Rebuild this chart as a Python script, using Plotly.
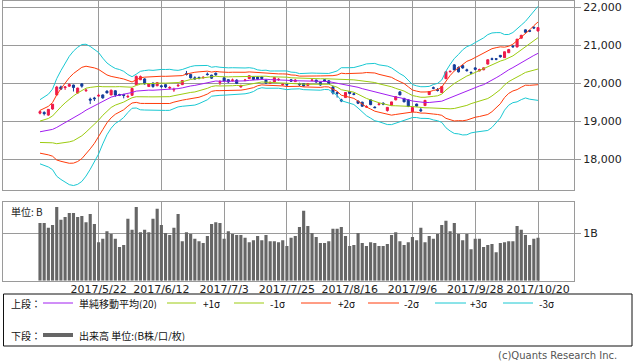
import numpy as np
import plotly.graph_objects as go

# ---------------- data ----------------
dates = ["2017/4/27", "2017/4/28",
         "2017/5/1", "2017/5/2", "2017/5/8", "2017/5/9", "2017/5/10", "2017/5/11", "2017/5/12",
         "2017/5/15", "2017/5/16", "2017/5/17", "2017/5/18", "2017/5/19",
         "2017/5/22", "2017/5/23", "2017/5/24", "2017/5/25", "2017/5/26",
         "2017/5/29", "2017/5/30", "2017/5/31",
         "2017/6/1", "2017/6/2", "2017/6/5", "2017/6/6", "2017/6/7", "2017/6/8", "2017/6/9",
         "2017/6/12", "2017/6/13", "2017/6/14", "2017/6/15", "2017/6/16",
         "2017/6/19", "2017/6/20", "2017/6/21", "2017/6/22", "2017/6/23",
         "2017/6/26", "2017/6/27", "2017/6/28", "2017/6/29", "2017/6/30",
         "2017/7/3", "2017/7/4", "2017/7/5", "2017/7/6", "2017/7/7",
         "2017/7/10", "2017/7/11", "2017/7/12", "2017/7/13", "2017/7/14",
         "2017/7/18", "2017/7/19", "2017/7/20", "2017/7/21",
         "2017/7/24", "2017/7/25", "2017/7/26", "2017/7/27", "2017/7/28", "2017/7/31",
         "2017/8/1", "2017/8/2", "2017/8/3", "2017/8/4",
         "2017/8/7", "2017/8/8", "2017/8/9", "2017/8/10",
         "2017/8/14", "2017/8/15", "2017/8/16", "2017/8/17", "2017/8/18",
         "2017/8/21", "2017/8/22", "2017/8/23", "2017/8/24", "2017/8/25",
         "2017/8/28", "2017/8/29", "2017/8/30", "2017/8/31", "2017/9/1",
         "2017/9/4", "2017/9/5", "2017/9/6", "2017/9/7", "2017/9/8",
         "2017/9/11", "2017/9/12", "2017/9/13", "2017/9/14", "2017/9/15",
         "2017/9/19", "2017/9/20", "2017/9/21", "2017/9/22",
         "2017/9/25", "2017/9/26", "2017/9/27", "2017/9/28", "2017/9/29",
         "2017/10/2", "2017/10/3", "2017/10/4", "2017/10/5", "2017/10/6",
         "2017/10/10", "2017/10/11", "2017/10/12", "2017/10/13",
         "2017/10/16", "2017/10/17", "2017/10/18", "2017/10/19", "2017/10/20"]

open_ = [19210, 19230, 19160, 19320, 19690, 19900, 19880, 19920, 19950, 19740,
         19980, 19800, 19580, 19610, 19660, 19690, 19790, 19690, 19800, 19700,
         19700, 19640, 19680, 19960, 20090, 20110, 19910, 20000, 19930, 19930,
         19960, 19870, 19820, 19930, 19960, 20250, 20230, 20140, 20150, 20140,
         20240, 20210, 20260, 20020, 20140, 20090, 20070, 20080, 19900, 20070,
         20120, 20160, 20160, 20160, 20080, 20000, 20030, 20090, 19960, 19970,
         20090, 20040, 19980, 19990, 19940, 20070, 20080, 20020, 20090, 20060,
         19900, 19750, 19560, 19620, 19780, 19720, 19530, 19500, 19370, 19560,
         19370, 19440, 19470, 19280, 19420, 19560, 19770, 19600, 19560, 19250,
         19450, 19300, 19410, 19700, 19880, 19830, 19750, 20120, 20300, 20480,
         20410, 20460, 20350, 20280, 20400, 20320, 20350, 20500, 20640, 20640,
         20730, 20670, 20800, 20970, 20950, 21180, 21400, 21380, 21470, 21370]
high = [19290, 19260, 19320, 19450, 19928, 19935, 19920, 19990, 19960, 19880,
        20000, 19850, 19620, 19640, 19720, 19700, 19810, 19830, 19810, 19720,
        19720, 19700, 19870, 20200, 20200, 20130, 20000, 20020, 20030, 19950,
        19970, 19920, 19880, 19980, 20070, 20320, 20240, 20180, 20170, 20180,
        20280, 20220, 20280, 20080, 20150, 20100, 20120, 20100, 19960, 20110,
        20210, 20170, 20170, 20180, 20090, 20040, 20160, 20130, 20000, 19990,
        20100, 20110, 20010, 20000, 19990, 20110, 20090, 20030, 20100, 20080,
        19920, 19780, 19590, 19760, 19790, 19750, 19540, 19510, 19420, 19570,
        19390, 19480, 19500, 19370, 19510, 19650, 19790, 19610, 19570, 19380,
        19460, 19360, 19560, 19790, 19910, 19870, 19920, 20310, 20330, 20500,
        20440, 20490, 20380, 20310, 20420, 20380, 20410, 20620, 20670, 20660,
        20740, 20830, 20900, 21000, 21160, 21270, 21410, 21400, 21490, 21470]
low = [19180, 19150, 19140, 19300, 19680, 19820, 19820, 19900, 19780, 19720,
       19880, 19770, 19450, 19530, 19640, 19590, 19730, 19680, 19640, 19660,
       19600, 19610, 19670, 19950, 20080, 19960, 19900, 19880, 19920, 19880,
       19870, 19840, 19770, 19900, 19950, 20200, 20120, 20090, 20100, 20120,
       20200, 20110, 20190, 19950, 20040, 20000, 20040, 19980, 19880, 20050,
       20110, 20080, 20080, 20100, 19980, 19980, 20020, 20060, 19930, 19930,
       20030, 20030, 19920, 19910, 19930, 20050, 20010, 19930, 20040, 19980,
       19700, 19620, 19500, 19610, 19710, 19680, 19450, 19380, 19350, 19420,
       19350, 19410, 19420, 19250, 19410, 19550, 19680, 19500, 19370, 19240,
       19380, 19240, 19400, 19690, 19840, 19780, 19740, 20100, 20280, 20340,
       20280, 20380, 20300, 20240, 20340, 20310, 20340, 20490, 20600, 20600,
       20670, 20660, 20790, 20930, 20940, 21170, 21320, 21340, 21420, 21360]
close = [19252, 19197, 19311, 19446, 19896, 19843, 19900, 19962, 19884, 19870,
         19920, 19815, 19554, 19591, 19678, 19613, 19743, 19813, 19687, 19683,
         19678, 19651, 19860, 20177, 20171, 19980, 19985, 19909, 20013, 19909,
         19899, 19884, 19832, 19943, 20068, 20230, 20139, 20111, 20133, 20153,
         20225, 20130, 20220, 20033, 20056, 20032, 20082, 19994, 19929, 20081,
         20195, 20098, 20100, 20119, 20001, 20021, 20145, 20100, 19976, 19955,
         20050, 20080, 19960, 19925, 19986, 20080, 20029, 19952, 20056, 19996,
         19739, 19730, 19537, 19753, 19729, 19703, 19470, 19393, 19384, 19435,
         19354, 19453, 19450, 19363, 19507, 19646, 19691, 19508, 19386, 19358,
         19397, 19275, 19546, 19777, 19866, 19807, 19910, 20299, 20310, 20347,
         20296, 20398, 20330, 20267, 20363, 20356, 20401, 20614, 20627, 20629,
         20691, 20824, 20881, 20955, 21155, 21256, 21336, 21363, 21449, 21458]

# closes of the 20 sessions before the first candle (needed for the 20-day bands)
prior_close = [19063, 18909, 18983, 18810, 18861, 18597, 18665, 18798, 18748, 18553,
               18427, 18336, 18355, 18419, 18432, 18430, 18621, 18876, 19079, 19289]

# volume, unit: B
volume = [1.21, 1.21, 1.11, 1.17, 1.55, 1.28, 1.34, 1.42, 1.42, 1.34,
          1.36, 1.23, 1.40, 1.19, 0.81, 0.88, 1.04, 0.98, 0.88, 0.71,
          0.75, 1.30, 1.07, 1.55, 1.02, 1.07, 1.02, 1.30, 1.51, 1.17,
          1.00, 0.96, 1.11, 1.40, 0.83, 1.02, 0.98, 0.88, 0.83, 0.79,
          0.94, 1.19, 1.23, 1.21, 0.88, 1.04, 0.98, 0.96, 0.96, 0.90,
          0.81, 0.85, 0.94, 0.85, 0.96, 0.83, 0.83, 0.81, 0.85, 0.73,
          0.90, 0.94, 1.13, 1.47, 1.15, 1.00, 0.92,
          0.79, 0.79, 0.83, 1.09, 1.09, 1.13, 0.94, 0.73, 0.75, 1.00,
          0.79, 0.73, 0.81, 0.79, 0.73, 0.73, 0.77, 0.96, 1.02, 0.83,
          0.75, 0.81, 0.92, 0.85, 1.11, 0.81, 0.94, 0.88, 0.98, 1.17,
          1.26, 1.04, 1.21, 0.98, 0.85, 0.98, 0.66, 0.88, 0.88, 0.71,
          0.75, 0.77, 0.60, 0.79, 0.81, 0.83, 0.83, 1.15, 1.07, 0.96,
          0.75, 0.88, 0.90]

tick_labels = ["2017/5/22", "2017/6/12", "2017/7/3", "2017/7/25",
               "2017/8/16", "2017/9/6", "2017/9/28", "2017/10/20"]
price_ticks = [18000, 19000, 20000, 21000, 22000]

# ---------------- Bollinger bands (20-day) ----------------
allc = np.array(prior_close + close, dtype=float)
n0 = len(prior_close)
sma, sd = [], []
for i in range(len(close)):
    w = allc[n0 + i - 19: n0 + i + 1]
    sma.append(w.mean())
    sd.append(w.std())
sma = np.array(sma)
sd = np.array(sd)

W, H = 638, 362
def px(x): return x / W
def py(y): return 1 - y / H

RED = "#ee1b4b"
BLUE = "#143c9a"
GRID = "#9a9a9a"
C_SMA, C_1, C_2, C_3 = "#a11ef0", "#9ccb10", "#ff3b0a", "#19c8d2"

fig = go.Figure()

band_specs = [(3, C_3), (-3, C_3), (2, C_2), (-2, C_2), (1, C_1), (-1, C_1)]
for k, col in band_specs:
    fig.add_trace(go.Scatter(x=dates, y=sma + k * sd, mode="lines",
                             line=dict(color=col, width=1), hoverinfo="skip"))
fig.add_trace(go.Scatter(x=dates, y=sma, mode="lines",
                         line=dict(color=C_SMA, width=1), hoverinfo="skip"))

fig.add_trace(go.Candlestick(
    x=dates, open=open_, high=high, low=low, close=close,
    increasing=dict(line=dict(color=RED, width=1), fillcolor=RED),
    decreasing=dict(line=dict(color=BLUE, width=1), fillcolor=BLUE),
    whiskerwidth=0))

fig.add_trace(go.Bar(x=dates, y=volume, xaxis="x2", yaxis="y2",
                     marker=dict(color="#666666", line=dict(width=0))))

xr = [-8.84, 127.6]
common_x = dict(type="category", range=xr, domain=[px(3), px(574)],
                tickvals=tick_labels, showgrid=True, gridcolor=GRID, gridwidth=1,
                showline=True, mirror=True, linecolor=GRID, linewidth=1,
                zeroline=False, fixedrange=True)

fig.update_layout(
    width=W, height=H, margin=dict(l=0, r=0, t=0, b=0),
    paper_bgcolor="white", plot_bgcolor="white", showlegend=False,
    font=dict(family="DejaVu Sans, Noto Sans CJK JP", size=11, color="#222"),
    boxgap=0.3, bargap=0.25,
    xaxis=dict(**common_x, anchor="y", showticklabels=False, rangeslider=dict(visible=False)),
    yaxis=dict(domain=[py(190.3), py(1)], range=[17184, 22158], side="right",
               tickvals=price_ticks, tickformat=",d", ticks="outside", ticklen=6,
               tickcolor=GRID, showgrid=True, gridcolor=GRID, showline=True, mirror=True,
               linecolor=GRID, zeroline=False, tickfont=dict(size=11, color="#222")),
    xaxis2=dict(**common_x, anchor="y2", showticklabels=True, ticks="",
                ticklabelstandoff=-2, tickfont=dict(size=11, color="#222")),
    yaxis2=dict(domain=[py(280.7), py(201.7)], range=[0, 1.66], side="right",
                tickvals=[1], ticktext=["1B"], ticks="outside", ticklen=6,
                tickcolor=GRID, showgrid=True, gridcolor=GRID, showline=True, mirror=True,
                linecolor=GRID, zeroline=False, tickfont=dict(size=11, color="#222")),
)

ann = []
shapes = []
jp = "Noto Sans CJK JP, DejaVu Sans"
ann.append(dict(text="単位: B", x=px(9), y=py(211), xref="paper", yref="paper",
                xanchor="left", yanchor="middle", showarrow=False,
                font=dict(size=10, family=jp)))

# legend box
shapes.append(dict(type="rect", xref="paper", yref="paper", x0=px(3.5), x1=px(632),
                   y0=py(346), y1=py(294), line=dict(color="#111", width=1)))
row1, row2 = 303, 335
def label(t, x, y):
    ann.append(dict(text=t, x=px(x), y=py(y), xref="paper", yref="paper",
                    xanchor="left", yanchor="middle", showarrow=False, borderpad=0,
                    height=12, valign="middle",
                    font=dict(size=10, family=jp, color="#111")))
def key(x0, x1, y, col, w=1):
    shapes.append(dict(type="line", xref="paper", yref="paper", x0=px(x0), x1=px(x1),
                       y0=py(y), y1=py(y), line=dict(color=col, width=w)))
label("上段：", 10, row1)
key(43, 73, row1, C_SMA)
label("単純移動平均(20)", 78, row1)
key(167, 196, row1, C_1)
label("+1σ", 202, row1)
key(234, 264, row1, C_1)
label("-1σ", 269, row1)
key(301, 331, row1, C_2)
label("+2σ", 337, row1)
key(368, 399, row1, C_2)
label("-2σ", 403, row1)
key(435, 466, row1, C_3)
label("+3σ", 469, row1)
key(503, 533, row1, C_3)
label("-3σ", 538, row1)
label("下段：", 10, row2)
key(43, 73, row2, "#666666", 4)
label("出来高 単位:(B株/口/枚)", 78, row2)

ann.append(dict(text="(c)Quants Research Inc.", x=px(618), y=py(355), xref="paper",
                yref="paper", xanchor="right", yanchor="middle", showarrow=False,
                borderpad=0, font=dict(size=10, color="#555")))

fig.update_layout(annotations=ann, shapes=shapes)
fig.write_html("out.html", config={"displayModeBar": False},
               post_script="document.body.style.margin='0px';"
                           "document.body.style.overflow='hidden';")
